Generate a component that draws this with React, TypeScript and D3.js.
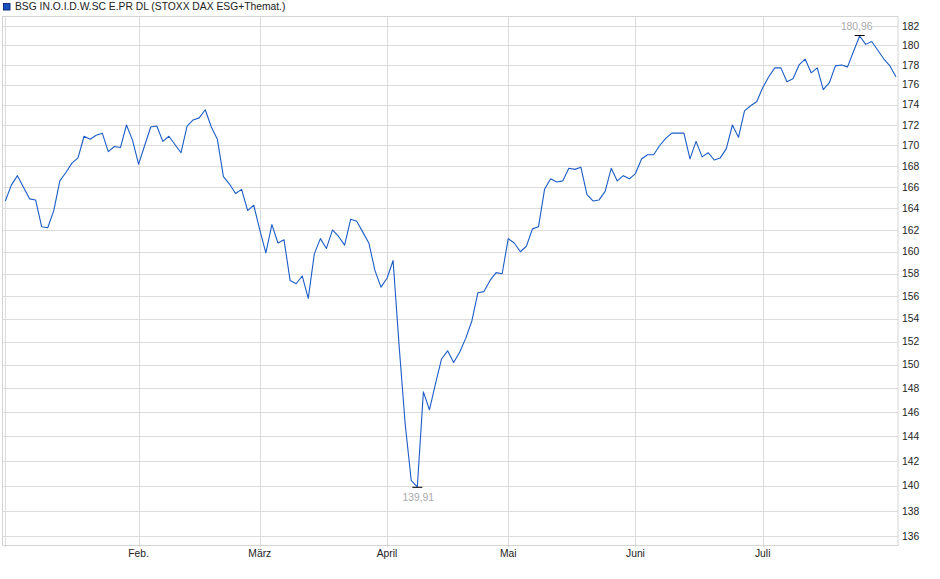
import React from "react";
import * as d3 from "d3";

const title = "BSG IN.O.I.D.W.SC E.PR DL (STOXX DAX ESG+Themat.)";

const prices: number[] = [
  164.7, 166.2, 167.1, 166.0, 164.9, 164.8, 162.3, 162.2, 163.8, 166.6,
  167.4, 168.3, 168.8, 170.9, 170.6, 171.0, 171.2, 169.4, 169.9, 169.8,
  172.0, 170.5, 168.2, 170.0, 171.8, 171.9, 170.4, 170.9, 170.1, 169.3,
  171.9, 172.5, 172.7, 173.5, 171.8, 170.6, 167.0, 166.3, 165.4, 165.8,
  163.8, 164.3, 162.0, 159.9, 162.5, 160.8, 161.1, 157.4, 157.1, 157.8,
  155.8, 159.8, 161.2, 160.3, 162.0, 161.4, 160.6, 163.0, 162.8, 161.8,
  160.8, 158.3, 156.8, 157.6, 159.2, 151.6, 145.0, 140.4, 139.91, 147.7,
  146.2, 148.4, 150.5, 151.2, 150.2, 151.1, 152.3, 153.8, 156.3, 156.4,
  157.4, 158.1, 158.0, 161.2, 160.8, 160.0, 160.5, 162.1, 162.3, 165.8,
  166.8, 166.5, 166.6, 167.8, 167.7, 167.9, 165.3, 164.7, 164.8, 165.6,
  167.8, 166.6, 167.1, 166.8, 167.3, 168.7, 169.1, 169.1, 170.0, 170.7,
  171.2, 171.2, 171.2, 168.7, 170.4, 168.9, 169.3, 168.6, 168.8, 169.7,
  172.0, 170.8, 173.4, 173.9, 174.3, 175.7, 176.8, 177.7, 177.7, 176.3,
  176.6, 178.0, 178.6, 177.2, 177.7, 175.5, 176.2, 177.9, 178.0, 177.8,
  179.4, 180.96, 180.1, 180.4, 179.5, 178.6, 177.9, 176.8,
];

// month starts (trading-day index) and labels
const monthIndex: number[] = [0, 22, 42, 63, 83, 104, 125];
const monthLabels: string[] = ["", "Feb.", "März", "April", "Mai", "Juni", "Juli"];

const yTicks: number[] = d3.range(136, 183, 2);

const W = 940;
const H = 579;
const plot = { left: 2.5, right: 898, top: 16, bottom: 545 };
const FONT = "'Liberation Sans', Arial, sans-serif";

export default function App() {
  const x = d3.scaleLinear().domain([0, prices.length - 1]).range([5.3, 896]);
  const y = d3.scaleLog().domain([135.34, 183.04]).range([plot.bottom, plot.top]);

  const line = d3
    .line<number>()
    .x((_, i) => x(i))
    .y((d) => y(d));

  const maxI = d3.maxIndex(prices);
  const minI = d3.minIndex(prices);
  const fmt = (v: number) => v.toFixed(2).replace(".", ",");

  const maxX = x(maxI);
  const maxY = y(prices[maxI]);
  const minX = x(minI);
  const minY = y(prices[minI]);

  return (
    <svg
      width={W}
      height={H}
      style={{ position: "absolute", left: 0, top: 0, background: "#fff" }}
      fontFamily={FONT}
    >
      {/* legend */}
      <rect x={3.5} y={3.5} width={6.5} height={6.5} fill="#1a52bd" stroke="#0d2f80" strokeWidth={1} />
      <text x={15} y={10} fontSize={10.3} fill="#222">
        {title}
      </text>

      {/* horizontal gridlines */}
      {yTicks.map((t) => (
        <line
          key={"h" + t}
          x1={plot.left}
          x2={plot.right}
          y1={Math.round(y(t)) + 0.5}
          y2={Math.round(y(t)) + 0.5}
          stroke="#dcdcdc"
          strokeWidth={1}
        />
      ))}
      {/* vertical month gridlines */}
      {monthIndex.map((m, k) => (
        <line
          key={"v" + k}
          x1={Math.round(x(m)) + 0.5}
          x2={Math.round(x(m)) + 0.5}
          y1={plot.top}
          y2={plot.bottom + 2}
          stroke="#dcdcdc"
          strokeWidth={1}
        />
      ))}
      {/* frame */}
      <rect
        x={plot.left}
        y={plot.top + 0.5}
        width={plot.right - plot.left}
        height={plot.bottom - plot.top}
        fill="none"
        stroke="#d4d4d4"
        strokeWidth={1}
      />

      {/* y labels */}
      {yTicks.map((t) => (
        <text key={"yl" + t} x={902} y={y(t) + 3.7} fontSize={10.3} fill="#222">
          {t}
        </text>
      ))}
      {/* x labels */}
      {monthIndex.map((m, k) =>
        monthLabels[k] ? (
          <text key={"xl" + k} x={x(m)} y={557} fontSize={10.3} fill="#222" textAnchor="middle">
            {monthLabels[k]}
          </text>
        ) : null
      )}

      {/* price line */}
      <path d={line(prices) || ""} fill="none" stroke="#1c5cc6" strokeWidth={1.1} strokeLinejoin="round" />

      {/* max marker & label */}
      <line x1={maxX - 5} x2={maxX + 5} y1={maxY - 0.5} y2={maxY - 0.5} stroke="#000" strokeWidth={1} />
      <rect x={maxX - 18} y={maxY - 15} width={30} height={10} fill="#fff" />
      <text x={maxX - 3} y={maxY - 6.5} fontSize={10.3} fill="#aaa" textAnchor="middle">
        {fmt(prices[maxI])}
      </text>

      {/* min marker & label */}
      <line x1={minX - 5} x2={minX + 5} y1={minY + 0.5} y2={minY + 0.5} stroke="#000" strokeWidth={1} />
      <rect x={minX - 14} y={minY + 5} width={30} height={10} fill="#fff" />
      <text x={minX + 1} y={minY + 14.5} fontSize={10.3} fill="#aaa" textAnchor="middle">
        {fmt(prices[minI])}
      </text>
    </svg>
  );
}
